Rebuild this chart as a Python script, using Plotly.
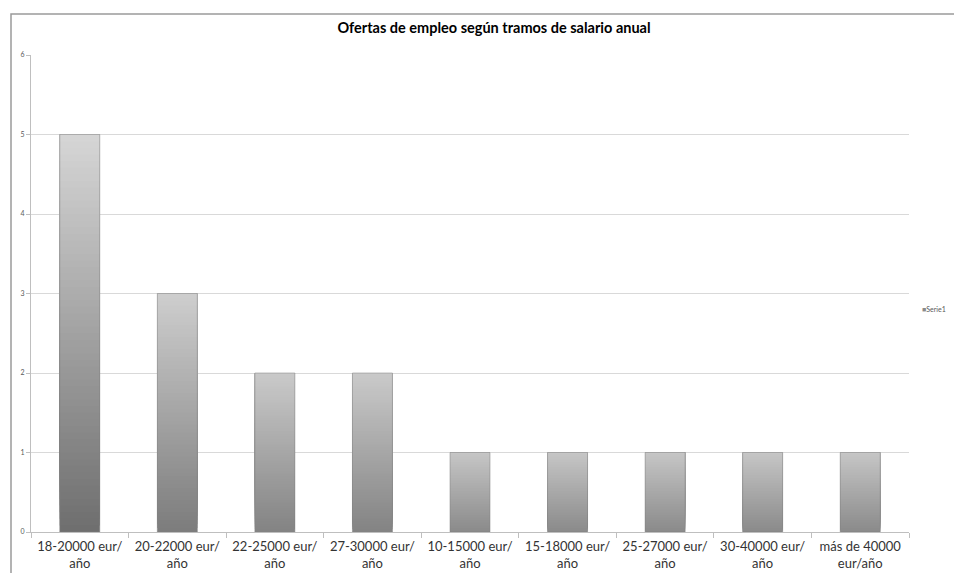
import plotly.graph_objects as go

categories = ["18-20000 eur/<br>año", "20-22000 eur/<br>año", "22-25000 eur/<br>año",
              "27-30000 eur/<br>año", "10-15000 eur/<br>año", "15-18000 eur/<br>año",
              "25-27000 eur/<br>año", "30-40000 eur/<br>año", "más de 40000<br>eur/año"]
values = [5, 3, 2, 2, 1, 1, 1, 1, 1]
series_name = "Serie1"
title_text = "Ofertas de empleo según tramos de salario anual"
y_ticks = [0, 1, 2, 3, 4, 5, 6]

W, H = 954, 573
L, R, T, B = 31, 45, 55, 41
N = 60
BARW = 0.41


def lerp(a, b, t):
    return a + (b - a) * t


def shade(v, t):
    vmax = max(values)
    f = (v - 1) / (vmax - 1) if vmax > 1 else 0
    bottom = lerp(138, 110, f)
    top = lerp(198, 214, f)
    g = int(round(lerp(bottom, top, t)))
    return f"rgb({g},{g},{g})"


fig = go.Figure()
# each layer covers from its base up to the bar top; later layers paint over earlier ones
for k in range(N):
    t = (k + 0.5) / N
    fig.add_trace(go.Bar(
        x=categories,
        y=[v * (1 - k / N) for v in values],
        base=[v * k / N for v in values],
        width=BARW,
        marker=dict(color=[shade(v, t) for v in values], line=dict(width=0)),
        showlegend=False,
        hoverinfo="skip",
    ))

# outline of each bar
fig.add_trace(go.Bar(
    x=categories, y=values, width=BARW, name=series_name,
    marker=dict(color="rgba(0,0,0,0)", line=dict(color="rgba(130,130,130,0.5)", width=1)),
    showlegend=False,
))

plot_w = W - L - R
plot_h = H - T - B

fig.update_layout(
    width=W, height=H,
    margin=dict(l=L, r=R, t=T, b=B, pad=0, autoexpand=False),
    barmode="overlay",
    paper_bgcolor="white", plot_bgcolor="white",
    font=dict(family="Lato, 'Open Sans', sans-serif", color="#404040"),
    title=dict(text=f"<b>{title_text}</b>", x=494 / W, xanchor="center",
               y=1 - 28 / H, yanchor="middle",
               font=dict(size=14.5, color="#000000", family="Lato, sans-serif")),
    showlegend=False,
)

fig.update_yaxes(
    range=[0, 6], tickvals=y_ticks, ticktext=[str(v) for v in y_ticks],
    showgrid=True, gridcolor="#d9d9d9", gridwidth=1,
    showline=True, linecolor="#bfbfbf", linewidth=1,
    ticks="outside", ticklen=4, tickcolor="#bfbfbf",
    tickfont=dict(size=7, color="#595959"), zeroline=False, automargin=False,
)
fig.update_xaxes(
    showline=True, linecolor="#bfbfbf", linewidth=1,
    ticks="outside", ticklen=5, tickcolor="#bfbfbf", tickson="boundaries",
    tickfont=dict(size=13, color="#333333"), showgrid=False,
    ticklabelstandoff=2, automargin=False,
)

# outer chart border (extends beyond the visible window)
fig.add_shape(type="rect", xref="paper", yref="paper",
              x0=(11 - L) / plot_w, x1=(W + 40 - L) / plot_w,
              y0=-(B + 40) / plot_h, y1=(H - B - 14) / plot_h,
              line=dict(color="#9a9a9a", width=1.5), fillcolor="rgba(0,0,0,0)", layer="below")

# legend entry
fig.add_annotation(xref="paper", yref="paper",
                   x=(920 - L) / plot_w, y=(H - B - 309) / plot_h,
                   xanchor="left", yanchor="middle", showarrow=False,
                   text="<span style='color:#8a8a8a'>■</span>" + series_name,
                   font=dict(size=7, color="#595959"))

fig.write_html("out.html", config={"displayModeBar": False},
               post_script="document.body.style.margin='0';document.body.style.padding='0';")
